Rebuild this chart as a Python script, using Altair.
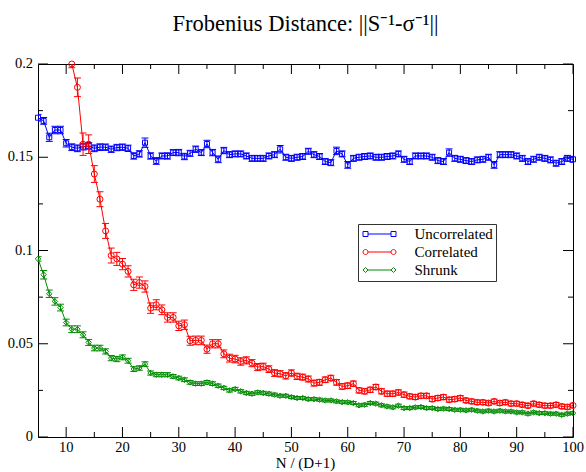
import altair as alt
import pandas as pd

# ---------------- data ----------------
series_names = ["Uncorrelated", "Correlated", "Shrunk"]
series_colors = ["#0000ff", "#ff0000", "#008b00"]

n_unc = list(range(5, 101))
unc = [0.1712, 0.1695, 0.1607, 0.1646, 0.1646, 0.1575, 0.1554, 0.1548, 0.1557, 0.1561,
       0.1548, 0.1554, 0.1554, 0.1543, 0.1552, 0.1554, 0.1548, 0.1507, 0.1518, 0.1578,
       0.1507, 0.1480, 0.1507, 0.1507, 0.1525, 0.1525, 0.1504, 0.1521, 0.1543, 0.1525,
       0.1571, 0.1525, 0.1489, 0.1536, 0.1514, 0.1518, 0.1518, 0.1507, 0.1494, 0.1494,
       0.1494, 0.1507, 0.1514, 0.1543, 0.1500, 0.1494, 0.1500, 0.1504, 0.1532, 0.1514,
       0.1504, 0.1477, 0.1471, 0.1534, 0.1518, 0.1459, 0.1494, 0.1500, 0.1504, 0.1507,
       0.1500, 0.1500, 0.1504, 0.1507, 0.1518, 0.1489, 0.1477, 0.1507, 0.1507, 0.1507,
       0.1500, 0.1482, 0.1477, 0.1525, 0.1494, 0.1489, 0.1482, 0.1477, 0.1486, 0.1489,
       0.1500, 0.1459, 0.1514, 0.1514, 0.1514, 0.1507, 0.1494, 0.1477, 0.1489, 0.1500,
       0.1494, 0.1486, 0.1468, 0.1477, 0.1494, 0.1489]
unc_err = [0.0018, 0.0018, 0.0022, 0.0020, 0.0020, 0.0020, 0.0018, 0.0018, 0.0018, 0.0018,
           0.0018, 0.0018, 0.0017, 0.0017, 0.0017, 0.0017, 0.0017, 0.0017, 0.0017, 0.0025,
           0.0017, 0.0018, 0.0016, 0.0017, 0.0016, 0.0017, 0.0017, 0.0016, 0.0017, 0.0016,
           0.0020, 0.0017, 0.0018, 0.0017, 0.0016, 0.0016, 0.0016, 0.0016, 0.0016, 0.0016,
           0.0016, 0.0016, 0.0016, 0.0020, 0.0016, 0.0016, 0.0016, 0.0016, 0.0016, 0.0016,
           0.0016, 0.0016, 0.0016, 0.0020, 0.0016, 0.0018, 0.0016, 0.0016, 0.0016, 0.0016,
           0.0016, 0.0016, 0.0016, 0.0016, 0.0016, 0.0016, 0.0016, 0.0016, 0.0016, 0.0016,
           0.0016, 0.0016, 0.0016, 0.0020, 0.0016, 0.0016, 0.0016, 0.0016, 0.0016, 0.0016,
           0.0016, 0.0018, 0.0016, 0.0016, 0.0016, 0.0016, 0.0016, 0.0016, 0.0016, 0.0016,
           0.0016, 0.0016, 0.0016, 0.0016, 0.0016, 0.0016]

n_cor = list(range(11, 101))
cor = [0.2000, 0.1875, 0.1570, 0.1570, 0.1410, 0.1275, 0.1105, 0.0973, 0.0955, 0.0927,
       0.0888, 0.0816, 0.0828, 0.0807, 0.0691, 0.0709, 0.0682, 0.0641, 0.0641, 0.0596,
       0.0602, 0.0516, 0.0518, 0.0518, 0.0471, 0.0500, 0.0500, 0.0446, 0.0423, 0.0418,
       0.0405, 0.0411, 0.0396, 0.0375, 0.0378, 0.0364, 0.0343, 0.0339, 0.0328, 0.0343,
       0.0325, 0.0321, 0.0311, 0.0289, 0.0293, 0.0307, 0.0316, 0.0293, 0.0271, 0.0275,
       0.0286, 0.0250, 0.0245, 0.0253, 0.0268, 0.0245, 0.0232, 0.0232, 0.0239, 0.0227,
       0.0218, 0.0214, 0.0221, 0.0221, 0.0203, 0.0209, 0.0214, 0.0200, 0.0203, 0.0209,
       0.0196, 0.0191, 0.0186, 0.0186, 0.0182, 0.0191, 0.0182, 0.0186, 0.0179, 0.0179,
       0.0173, 0.0168, 0.0179, 0.0173, 0.0168, 0.0168, 0.0173, 0.0164, 0.0161, 0.0169]
cor_err = [0.0020, 0.0050, 0.0060, 0.0050, 0.0045, 0.0040, 0.0040, 0.0040, 0.0035, 0.0030,
           0.0030, 0.0030, 0.0030, 0.0030, 0.0028, 0.0027, 0.0026, 0.0025, 0.0025, 0.0025,
           0.0025, 0.0024, 0.0023, 0.0023, 0.0022, 0.0022, 0.0022, 0.0021, 0.0021, 0.0020,
           0.0020, 0.0019, 0.0019, 0.0019, 0.0018, 0.0018, 0.0018, 0.0017, 0.0017, 0.0017,
           0.0017, 0.0016, 0.0016, 0.0016, 0.0016, 0.0015, 0.0015, 0.0015, 0.0015, 0.0015,
           0.0014, 0.0014, 0.0014, 0.0014, 0.0014, 0.0014, 0.0014, 0.0014, 0.0014, 0.0014,
           0.0013, 0.0013, 0.0013, 0.0013, 0.0013, 0.0013, 0.0013, 0.0013, 0.0013, 0.0013,
           0.0012, 0.0012, 0.0012, 0.0012, 0.0012, 0.0012, 0.0012, 0.0012, 0.0012, 0.0012,
           0.0012, 0.0012, 0.0012, 0.0012, 0.0012, 0.0012, 0.0012, 0.0012, 0.0012, 0.0012]

n_shr = list(range(5, 101))
shr = [0.0955, 0.0870, 0.0768, 0.0727, 0.0694, 0.0614, 0.0578, 0.0578, 0.0548, 0.0507,
       0.0477, 0.0477, 0.0459, 0.0423, 0.0418, 0.0427, 0.0409, 0.0364, 0.0370, 0.0391,
       0.0343, 0.0334, 0.0334, 0.0334, 0.0325, 0.0316, 0.0307, 0.0293, 0.0286, 0.0286,
       0.0293, 0.0286, 0.0275, 0.0263, 0.0250, 0.0257, 0.0245, 0.0236, 0.0232, 0.0239,
       0.0236, 0.0232, 0.0227, 0.0221, 0.0221, 0.0214, 0.0209, 0.0209, 0.0203, 0.0203,
       0.0200, 0.0196, 0.0196, 0.0191, 0.0187, 0.0186, 0.0182, 0.0170, 0.0173, 0.0182,
       0.0179, 0.0170, 0.0164, 0.0159, 0.0168, 0.0155, 0.0155, 0.0159, 0.0161, 0.0155,
       0.0155, 0.0150, 0.0152, 0.0150, 0.0146, 0.0146, 0.0143, 0.0146, 0.0141, 0.0137,
       0.0141, 0.0137, 0.0141, 0.0137, 0.0137, 0.0132, 0.0132, 0.0125, 0.0132, 0.0128,
       0.0128, 0.0125, 0.0125, 0.0119, 0.0125, 0.0128]
shr_err = [0.0012, 0.0023, 0.0020, 0.0020, 0.0018, 0.0018, 0.0018, 0.0018, 0.0016, 0.0016,
           0.0015, 0.0015, 0.0014, 0.0014, 0.0014, 0.0013, 0.0013, 0.0013, 0.0012, 0.0012,
           0.0011, 0.0011, 0.0011, 0.0011, 0.0010, 0.0010, 0.0010, 0.0010, 0.0010, 0.0010,
           0.0010, 0.0010, 0.0009, 0.0009, 0.0009, 0.0009, 0.0009, 0.0009, 0.0009, 0.0009,
           0.0009, 0.0009, 0.0008, 0.0008, 0.0008, 0.0008, 0.0008, 0.0008, 0.0008, 0.0008,
           0.0008, 0.0008, 0.0008, 0.0008, 0.0008, 0.0008, 0.0008, 0.0008, 0.0008, 0.0008,
           0.0008, 0.0008, 0.0008, 0.0008, 0.0008, 0.0008, 0.0008, 0.0008, 0.0008, 0.0008,
           0.0008, 0.0008, 0.0008, 0.0008, 0.0008, 0.0008, 0.0008, 0.0008, 0.0008, 0.0008,
           0.0008, 0.0008, 0.0008, 0.0008, 0.0008, 0.0008, 0.0008, 0.0008, 0.0008, 0.0008,
           0.0008, 0.0008, 0.0008, 0.0008, 0.0008, 0.0008]

x_domain = [5, 100]
y_domain = [0, 0.2]
x_major = [10, 20, 30, 40, 50, 60, 70, 80, 90, 100]
x_labels = ["10", "20", "30", "40", "50", "60", "70", "80", "90", "100"]
x_minor = [15, 25, 35, 45, 55, 65, 75, 85, 95]
y_major = [0, 0.05, 0.1, 0.15, 0.2]
y_labels = ["0", "0.05", "0.1", "0.15", "0.2"]
y_minor = [0.025, 0.075, 0.125, 0.175]
x_title = "N / (D+1)"
chart_title = "Frobenius Distance: ||S\u207b\u00b9-\u03c3\u207b\u00b9||"

# ---------------- chart ----------------
FONT = "Liberation Serif"
PLOT_W, PLOT_H = 535, 373
MAJOR_PX, MINOR_PX = 10, 5
xscale = alt.Scale(domain=x_domain, nice=False, zero=False)
yscale = alt.Scale(domain=y_domain, nice=False, zero=False)


def X(field="N:Q"):
    return alt.X(field, scale=xscale, axis=None)


def Y(field):
    return alt.Y(field, scale=yscale, axis=None)


layers = []

# inward-pointing frame ticks (mirrored on all four sides)
dx = (x_domain[1] - x_domain[0]) / PLOT_W
dy = (y_domain[1] - y_domain[0]) / PLOT_H
rows = []
for vals, px in [(x_major, MAJOR_PX), (x_minor, MINOR_PX)]:
    for v in vals:
        rows.append((v, v, y_domain[0], y_domain[0] + px * dy))
        rows.append((v, v, y_domain[1], y_domain[1] - px * dy))
for vals, px in [(y_major, MAJOR_PX), (y_minor, MINOR_PX)]:
    for v in vals:
        rows.append((x_domain[0], x_domain[0] + px * dx, v, v))
        rows.append((x_domain[1], x_domain[1] - px * dx, v, v))
ticks_df = pd.DataFrame(rows, columns=["tx", "tx2", "ty", "ty2"])
layers.append(alt.Chart(ticks_df).mark_rule(color="black", strokeWidth=1).encode(
    x=X("tx:Q"), x2="tx2:Q", y=Y("ty:Q"), y2="ty2:Q"))

# tick labels, axis title and chart title as text marks placed through the scales
xl_df = pd.DataFrame({"v": x_major, "lab": x_labels, "edge": [y_domain[0]] * len(x_major)})
layers.append(alt.Chart(xl_df).mark_text(font=FONT, fontSize=14.5, color="black",
                                         baseline="top", align="center", dy=4).encode(
    x=X("v:Q"), y=Y("edge:Q"), text="lab:N"))
yl_df = pd.DataFrame({"v": y_major, "lab": y_labels, "edge": [x_domain[0]] * len(y_major)})
layers.append(alt.Chart(yl_df).mark_text(font=FONT, fontSize=14.5, color="black",
                                         baseline="middle", align="right", dx=-5).encode(
    x=X("edge:Q"), y=Y("v:Q"), text="lab:N"))
xt_df = pd.DataFrame({"v": [(x_domain[0] + x_domain[1]) / 2], "lab": [x_title],
                      "edge": [y_domain[0]]})
layers.append(alt.Chart(xt_df).mark_text(font=FONT, fontSize=15, color="black",
                                         baseline="alphabetic", align="center", dy=31).encode(
    x=X("v:Q"), y=Y("edge:Q"), text="lab:N"))
tt_df = pd.DataFrame({"v": [(x_domain[0] + x_domain[1]) / 2], "lab": [chart_title],
                      "edge": [y_domain[1]]})
layers.append(alt.Chart(tt_df).mark_text(font=FONT, fontSize=22.5, color="black",
                                         baseline="alphabetic", align="center", dy=-33).encode(
    x=X("v:Q"), y=Y("edge:Q"), text="lab:N"))

series = [
    (series_names[0], n_unc, unc, unc_err, series_colors[0], "square", 25),
    (series_names[1], n_cor, cor, cor_err, series_colors[1], "circle", 36),
    (series_names[2], n_shr, shr, shr_err, series_colors[2], "diamond", 30),
]

frames = []
for name, ns, vals, errs, color, shape, size in series:
    df = pd.DataFrame({"N": ns, "v": vals, "e": errs})
    df["lo"] = df["v"] - df["e"]
    df["hi"] = df["v"] + df["e"]
    df["series"] = name
    frames.append(df)
    base = alt.Chart(df)
    layers.append(base.mark_line(color=color, strokeWidth=1).encode(x=X(), y=Y("v:Q")))
    layers.append(base.mark_rule(color=color, strokeWidth=1, clip=True).encode(
        x=X(), y=Y("lo:Q"), y2="hi:Q"))
    layers.append(base.mark_tick(color=color, orient="horizontal", size=7, thickness=1,
                                 opacity=1, clip=True).encode(x=X(), y=Y("lo:Q")))
    layers.append(base.mark_tick(color=color, orient="horizontal", size=7, thickness=1,
                                 opacity=1, clip=True).encode(x=X(), y=Y("hi:Q")))
    layers.append(base.mark_point(shape=shape, filled=False, size=size, color=color,
                                  strokeWidth=1, opacity=1).encode(x=X(), y=Y("v:Q")))

legend_paths = [
    "M-2.3,0H2.3M-3.3,-0.5H-2.3V0.5H-3.3ZM2.3,-0.5H3.3V0.5H2.3Z",
    "M-2.3,0H2.3M-2.3,0A0.5,0.5,0,1,1,-3.3,0A0.5,0.5,0,1,1,-2.3,0ZM3.3,0A0.5,0.5,0,1,1,2.3,0A0.5,0.5,0,1,1,3.3,0Z",
    "M-2.3,0H2.3M-2.3,0L-2.8,-0.5L-3.3,0L-2.8,0.5ZM3.3,0L2.8,-0.5L2.3,0L2.8,0.5Z",
]


def make_legend():
    return alt.Legend(orient="none", legendX=320, legendY=160, title=None,
                      labelFont=FONT, labelFontSize=15, labelColor="black",
                      symbolSize=100, symbolStrokeWidth=1, symbolOffset=11.5,
                      labelOffset=27.5, rowPadding=2, padding=2.5,
                      strokeColor="#333333", fillColor="white")


all_df = pd.concat(frames, ignore_index=True)
legend_layer = alt.Chart(all_df).transform_filter("false").mark_point(
    filled=False, strokeWidth=1, opacity=1).encode(
    color=alt.Color("series:N", scale=alt.Scale(domain=series_names, range=series_colors),
                    legend=make_legend()),
    shape=alt.Shape("series:N", scale=alt.Scale(domain=series_names, range=legend_paths),
                    legend=make_legend()),
)
layers.append(legend_layer)

chart = alt.layer(*layers).properties(
    width=PLOT_W, height=PLOT_H,
    autosize=alt.AutoSizeParams(type="none"),
    padding={"left": 38, "top": 64, "right": 13, "bottom": 35},
    background="white",
).configure_view(stroke="black", strokeWidth=1)

chart.save("out.html", embed_options={"renderer": "svg", "actions": False})
